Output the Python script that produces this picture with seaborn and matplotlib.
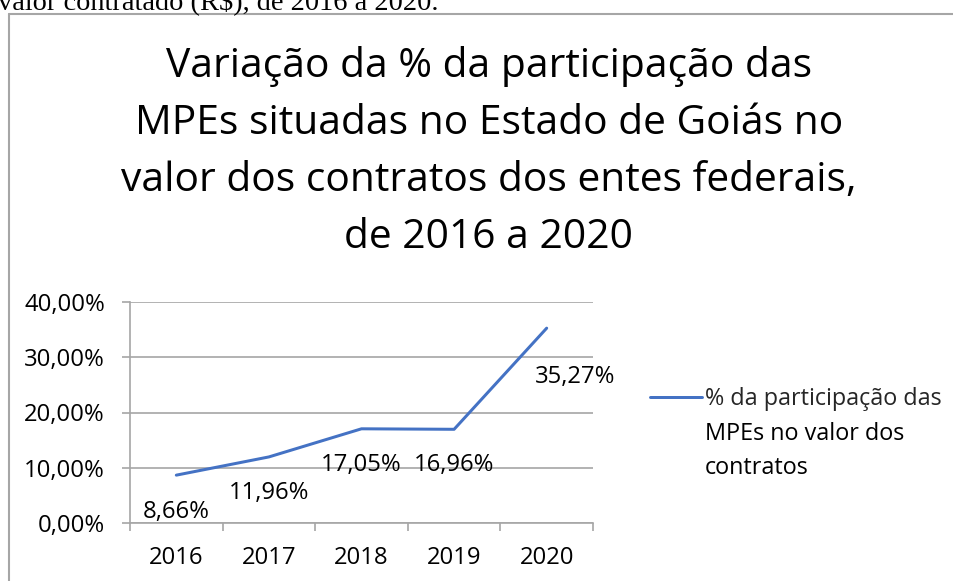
import matplotlib
matplotlib.use("Agg")
import matplotlib.pyplot as plt
from matplotlib.lines import Line2D
from matplotlib.ticker import FixedLocator
import seaborn as sns
import pandas as pd

# ---- data ----
years = ["2016", "2017", "2018", "2019", "2020"]
share = [0.0866, 0.1196, 0.1705, 0.1696, 0.3527]
value_labels = ["8,66%", "11,96%", "17,05%", "16,96%", "35,27%"]
y_ticks = [0.0, 0.10, 0.20, 0.30, 0.40]
y_tick_labels = ["0,00%", "10,00%", "20,00%", "30,00%", "40,00%"]
series_name = "% da participação das"
series_name_rest = ["MPEs no valor dos", "contratos"]
title_lines = ["Variação da % da participação das",
               "MPEs situadas no Estado de Goiás no",
               "valor dos contratos dos entes federais,",
               "de 2016 a 2020"]
caption = "valor contratado (R$), de 2016 a 2020."

df = pd.DataFrame({"ano": years, "share": share})

sns.set_theme(style="white")
plt.rcParams["font.family"] = ["Open Sans", "DejaVu Sans"]

W, H = 954, 581
DPI = 100
fig = plt.figure(figsize=(W / DPI, H / DPI), dpi=DPI)

def fx(px):
    return px / W

def fy(py):
    return 1 - py / H

PX = 72.0 / DPI  # points per pixel

# border of the chart area
fig.add_artist(Line2D([fx(9.5), 1.0], [fy(13.5), fy(13.5)], color="#A6A6A6", lw=1.5))
fig.add_artist(Line2D([fx(9.5), fx(9.5)], [fy(13.5), 0.0], color="#A6A6A6", lw=1.5))

# caption cut at top
fig.text(fx(-2), fy(9), caption, family=["Liberation Serif"], fontsize=20.4,
         color="black", ha="left", va="baseline")

# title
for i, t in enumerate(title_lines):
    fig.text(fx(489), fy(77 + i * 57), t, fontsize=29.3, color="black",
             ha="center", va="baseline")

# axes
left, right, top, bottom = 130, 593, 302, 523
ax = fig.add_axes([fx(left), fy(bottom), fx(right - left), (bottom - top) / H])

line_color = "#4472C4"
sns.lineplot(data=df, x="ano", y="share", ax=ax, color=line_color,
             linewidth=3 * PX, sort=False, legend=False)

ax.set_xlim(-0.5, len(years) - 0.5)
ax.set_ylim(0, 0.40)
ax.set_xlabel("")
ax.set_ylabel("")

ax.yaxis.set_major_locator(FixedLocator(y_ticks))
ax.set_yticklabels(y_tick_labels)
ax.set_xticks(range(len(years)))
ax.set_xticklabels(years)
ax.xaxis.set_minor_locator(FixedLocator([i - 0.5 for i in range(len(years) + 1)]))

grid_c = "#A6A6A6"
ax.grid(axis="y", color=grid_c, linewidth=1.2)
ax.set_axisbelow(True)
for s in ["top", "right"]:
    ax.spines[s].set_visible(False)
for s in ["left", "bottom"]:
    ax.spines[s].set_color(grid_c)
    ax.spines[s].set_linewidth(1.2)

fs = 17.2
ax.tick_params(axis="y", which="major", length=8 * PX, width=1.2, color=grid_c,
               pad=17 * PX, labelsize=fs, labelcolor="black", left=True)
ax.tick_params(axis="x", which="major", length=0, pad=23 * PX,
               labelsize=fs, labelcolor="black")
ax.tick_params(axis="x", which="minor", length=8 * PX, width=1.2, color=grid_c,
               bottom=True)

# data labels
offsets = [(0, -37), (0, -36), (0, -36), (0, -36), (28, -49)]
for i, (v, lab) in enumerate(zip(share, value_labels)):
    dx, dy = offsets[i]
    ax.annotate(lab, (i, v), xytext=(dx * PX, dy * PX), textcoords="offset points",
                ha="center", va="center", fontsize=fs, color="black")

# legend
lfs = 16.8
handle = Line2D([], [], color=line_color, linewidth=3 * PX)
leg = fig.legend([handle], [series_name], loc="center left",
                 bbox_to_anchor=(fx(650), fy(399)), frameon=False,
                 fontsize=lfs, handlelength=52 * PX / lfs, handletextpad=3 * PX / lfs,
                 borderpad=0, borderaxespad=0)
for j, t in enumerate(series_name_rest):
    fig.text(fx(705), fy(407 + (j + 1) * 33.5), t, fontsize=lfs, color="black",
             ha="left", va="baseline")

fig.savefig("out.png", dpi=DPI)
